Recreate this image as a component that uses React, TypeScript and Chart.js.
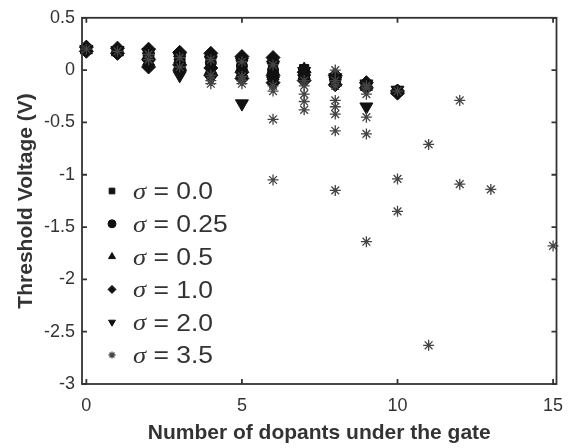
import React, { useEffect, useRef } from 'react';
import { Chart, registerables } from 'chart.js';
import { drawPoint } from 'chart.js/helpers';

Chart.register(...registerables);

const xTicks = [0, 5, 10, 15];
const yTicks = [0.5, 0, -0.5, -1, -1.5, -2, -2.5, -3];
const sigmaLabels = ['0.0', '0.25', '0.5', '1.0', '2.0', '3.5'];

const s00X = [0, 1, 2, 3, 4, 5, 6, 7, 8, 9, 10];
const s00Y = [0.2, 0.18, 0.15, 0.12, 0.09, 0.07, 0.04, 0.01, -0.08, -0.15, -0.2];

const s025X = [0, 1, 1, 2, 2, 3, 3, 4, 4, 5, 5, 6, 6, 7, 7, 8, 8, 9, 10];
const s025Y = [0.2, 0.19, 0.17, 0.17, 0.14, 0.15, 0.1, 0.13, 0.07, 0.1, 0.04, 0.08, 0.0, 0.0, -0.04, -0.08, -0.1, -0.14, -0.2];

const s05X = [0, 0, 1, 1, 2, 2, 2, 3, 3, 3, 4, 4, 4, 5, 5, 5, 6, 6, 6, 7, 7, 8, 8, 9, 9, 10];
const s05Y = [0.21, 0.19, 0.2, 0.17, 0.19, 0.12, 0.08, 0.16, 0.1, 0.05, 0.15, 0.05, 0.0, 0.12, 0.03, -0.03, 0.1, 0.0, -0.06, 0.01, -0.05, -0.06, -0.12, -0.13, -0.16, -0.2];

const s10X = [0, 0, 1, 1, 2, 2, 2, 3, 3, 3, 4, 4, 4, 5, 5, 5, 6, 6, 6, 7, 7, 8, 8, 9, 9, 10, 10];
const s10Y = [0.22, 0.18, 0.21, 0.16, 0.2, 0.1, 0.03, 0.17, 0.05, 0.0, 0.16, 0.02, -0.05, 0.13, -0.02, -0.08, 0.12, -0.05, -0.12, -0.02, -0.1, -0.05, -0.14, -0.12, -0.17, -0.2, -0.22];

const s20X = [0, 1, 2, 2, 3, 3, 4, 4, 5, 5, 6, 6, 7, 7, 8, 8, 9, 9, 10];
const s20Y = [0.2, 0.19, 0.17, 0.08, 0.13, -0.05, 0.1, -0.08, 0.08, -0.32, 0.05, -0.1, -0.01, -0.08, -0.07, -0.1, -0.13, -0.35, -0.19];

const s35X = [0, 1, 2, 2, 3, 3, 4, 4, 4, 4, 5, 5, 5, 5, 6, 6, 6, 6, 6, 7, 7, 7, 7, 7, 8, 8, 8, 8, 8, 8, 8, 8, 9, 9, 9, 9, 9, 9, 10, 10, 10, 11, 11, 12, 12, 13, 15];
const s35Y = [0.2, 0.18, 0.15, 0.1, 0.12, 0.03, 0.1, -0.05, -0.1, -0.13, 0.08, -0.06, -0.1, -0.13, 0.05, -0.15, -0.2, -0.47, -1.05, -0.1, -0.15, -0.23, -0.3, -0.38, 0.0, -0.1, -0.15, -0.29, -0.35, -0.42, -0.58, -1.15, -0.15, -0.17, -0.23, -0.45, -0.61, -1.64, -0.2, -1.04, -1.35, -0.71, -2.63, -0.29, -1.09, -1.14, -1.68];

const pts = (xs: number[], ys: number[]) => xs.map((x, i) => ({ x, y: ys[i] }));

const FONT = "'Liberation Sans', Arial, sans-serif";
const TEXT = '#333333';
const MARK = '#111111';

const framePlugin = {
  id: 'frameTicks',
  afterDatasetsDraw(chart: any) {
    const { ctx, chartArea: a, scales } = chart;
    const x = scales.x, y = scales.y;
    ctx.save();
    ctx.strokeStyle = '#333333';
    ctx.lineWidth = 1.8;
    ctx.strokeRect(a.left, a.top, a.right - a.left, a.bottom - a.top);
    ctx.beginPath();
    const L = 5;
    for (const v of xTicks) {
      const px = x.getPixelForValue(v);
      ctx.moveTo(px, a.bottom); ctx.lineTo(px, a.bottom - L);
      ctx.moveTo(px, a.top); ctx.lineTo(px, a.top + L);
    }
    for (const v of yTicks) {
      const py = y.getPixelForValue(v);
      ctx.moveTo(a.left, py); ctx.lineTo(a.left + L, py);
      ctx.moveTo(a.right, py); ctx.lineTo(a.right - L, py);
    }
    ctx.stroke();
    ctx.restore();
  },
};

const legendPlugin = {
  id: 'insideLegend',
  afterDraw(chart: any) {
    const { ctx } = chart;
    const ds = chart.data.datasets;
    ctx.save();
    for (let i = 0; i < ds.length; i++) {
      const d = ds[i];
      const cy = 191 + i * 32.8;
      ctx.fillStyle = d.backgroundColor;
      ctx.strokeStyle = d.borderColor;
      ctx.lineWidth = d.borderWidth;
      drawPoint(ctx, { pointStyle: d.pointStyle, rotation: d.pointRotation || 0, radius: d.pointStyle === 'star' ? 3.5 : 4, borderWidth: d.borderWidth }, 112, cy);
      ctx.save();
      ctx.translate(133, cy + 2);
      ctx.scale(1.15, 1);
      ctx.fillStyle = TEXT;
      ctx.textBaseline = 'middle';
      ctx.font = "italic 23px 'Liberation Serif', serif";
      ctx.fillText('σ', 0, 0);
      const w = ctx.measureText('σ').width;
      ctx.font = `23px ${FONT}`;
      ctx.fillText(' = ' + sigmaLabels[i], w, 0);
      ctx.restore();
    }
    ctx.restore();
  },
};

export default function App() {
  const ref = useRef<HTMLCanvasElement>(null);
  useEffect(() => {
    document.body.style.margin = '0';
    const filled = (label: string, data: any[], style: string, r: number, rot = 0, order = 1) => ({
      label, data, pointStyle: style, pointRadius: r, pointRotation: rot,
      backgroundColor: MARK, borderColor: MARK, borderWidth: 1, showLine: false, clip: false, order,
    });
    const chart = new Chart(ref.current!, {
      type: 'scatter',
      data: {
        datasets: [
          filled('σ = ' + sigmaLabels[0], pts(s00X, s00Y), 'rect', 6.5, 0, 6),
          filled('σ = ' + sigmaLabels[1], pts(s025X, s025Y), 'circle', 5.5, 0, 5),
          filled('σ = ' + sigmaLabels[2], pts(s05X, s05Y), 'triangle', 7, 0, 4),
          filled('σ = ' + sigmaLabels[3], pts(s10X, s10Y), 'rectRot', 7, 0, 3),
          filled('σ = ' + sigmaLabels[4], pts(s20X, s20Y), 'triangle', 7.5, 180, 2),
          {
            label: 'σ = ' + sigmaLabels[5], data: pts(s35X, s35Y), pointStyle: 'star', pointRadius: 5.5,
            backgroundColor: '#555555', borderColor: '#444444', borderWidth: 1.3, showLine: false, clip: false, order: 1,
          } as any,
        ],
      },
      options: {
        animation: false,
        responsive: false,
        layout: { padding: { top: 13, right: 18.5, left: 0, bottom: 0 } },
        plugins: { legend: { display: false }, tooltip: { enabled: false } },
        scales: {
          x: {
            type: 'linear', min: -0.14, max: 15.11,
            afterBuildTicks: (s: any) => { s.ticks = xTicks.map((v) => ({ value: v })); },
            afterFit: (s: any) => { s.height = 64; },
            grid: { display: false, drawTicks: false },
            border: { display: false },
            ticks: { color: TEXT, font: { family: FONT, size: 18 }, padding: 11, callback: (v: any) => String(v), maxRotation: 0 },
            title: { display: true, text: 'Number of dopants under the gate', color: TEXT, font: { family: FONT, size: 21, weight: 'bold' }, padding: { top: 0, bottom: 2 } },
          },
          y: {
            type: 'linear', min: -3, max: 0.5,
            afterBuildTicks: (s: any) => { s.ticks = yTicks.map((v) => ({ value: v })); },
            afterFit: (s: any) => { s.width = 82; },
            grid: { display: false, drawTicks: false },
            border: { display: false },
            ticks: { color: TEXT, font: { family: FONT, size: 18 }, padding: 7, callback: (v: any) => String(v) },
            title: { display: true, text: 'Threshold Voltage (V)', color: TEXT, font: { family: FONT, size: 21, weight: 'bold' }, padding: { top: 14, bottom: 0 } },
          },
        },
      } as any,
      plugins: [framePlugin, legendPlugin],
    });
    return () => chart.destroy();
  }, []);
  return (
    <div style={{ width: 575, height: 448 }}>
      <canvas ref={ref} width={575} height={448} style={{ display: 'block' }} />
    </div>
  );
}
